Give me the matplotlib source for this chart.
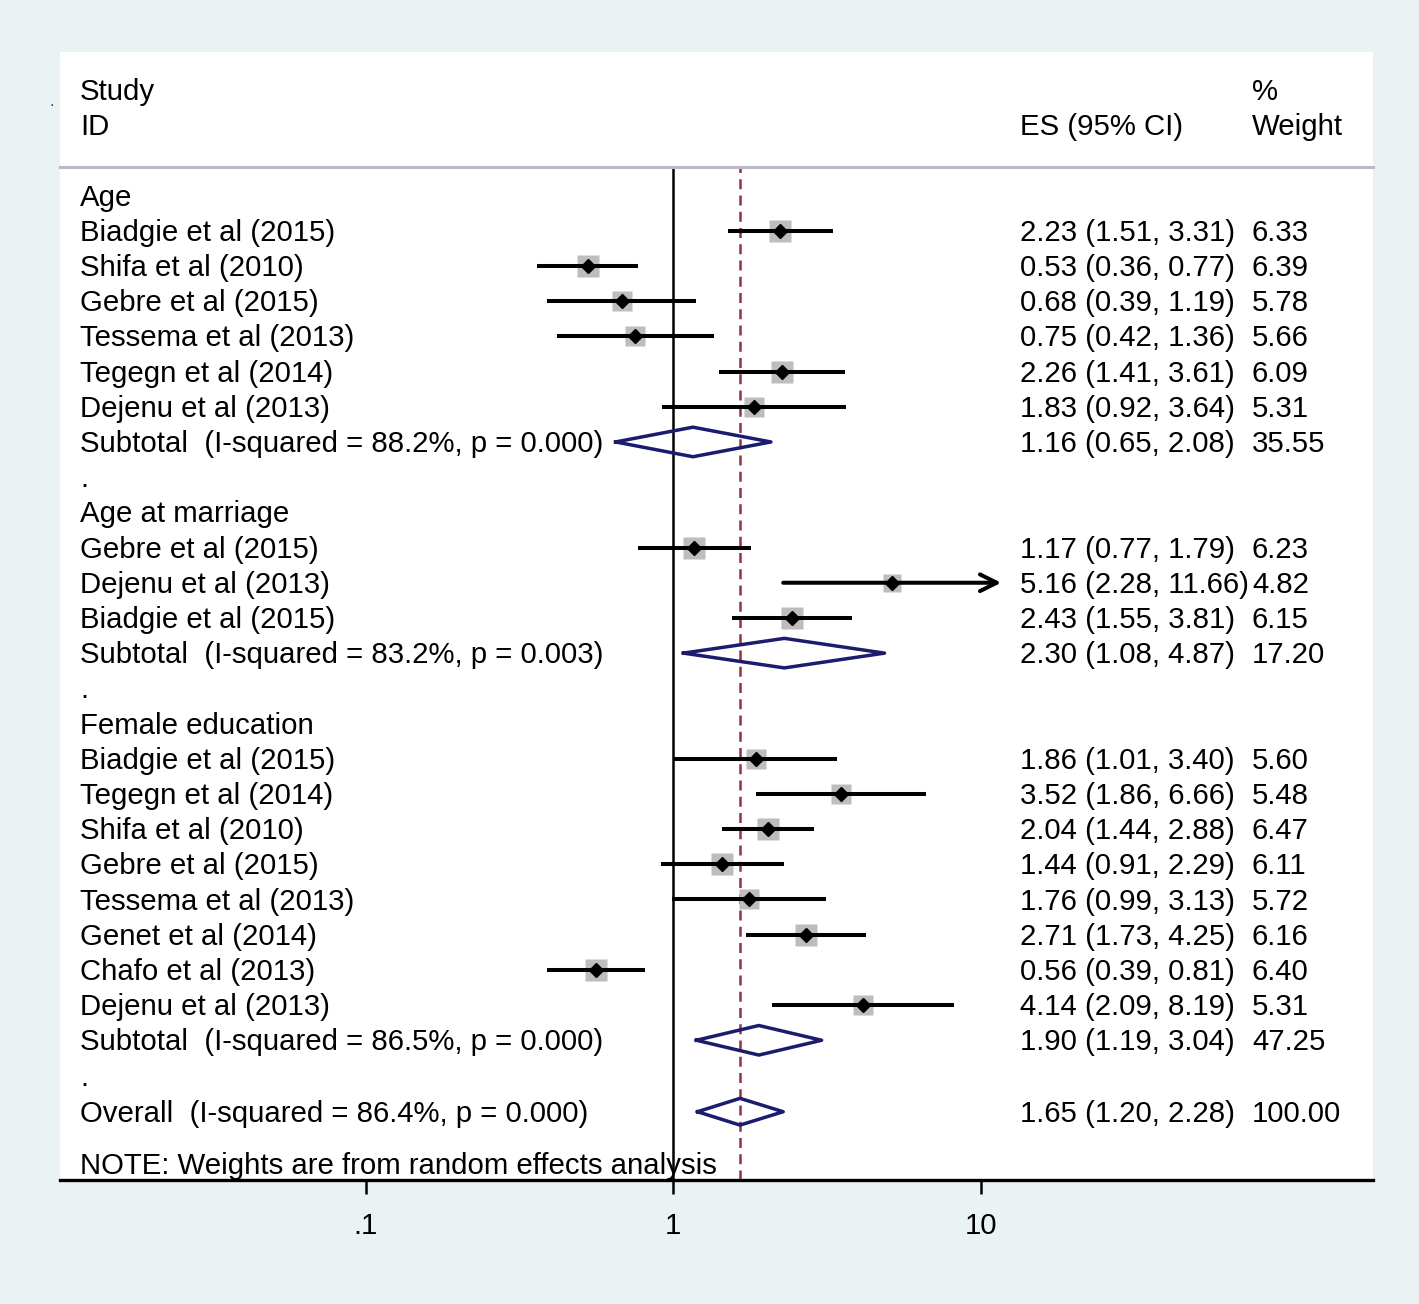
import matplotlib
matplotlib.use("Agg")
from matplotlib import pyplot as plt
import numpy as np

plt.rcParams["font.family"] = ["Liberation Sans", "DejaVu Sans"]

# groups of the forest plot
group_names = ["Age", "Age at marriage", "Female education"]

age_studies = ["Biadgie et al (2015)", "Shifa et al (2010)", "Gebre et al (2015)",
               "Tessema et al (2013)", "Tegegn et al (2014)", "Dejenu et al (2013)"]
age_es = [2.23, 0.53, 0.68, 0.75, 2.26, 1.83]
age_lo = [1.51, 0.36, 0.39, 0.42, 1.41, 0.92]
age_hi = [3.31, 0.77, 1.19, 1.36, 3.61, 3.64]
age_w = [6.33, 6.39, 5.78, 5.66, 6.09, 5.31]

mar_studies = ["Gebre et al (2015)", "Dejenu et al (2013)", "Biadgie et al (2015)"]
mar_es = [1.17, 5.16, 2.43]
mar_lo = [0.77, 2.28, 1.55]
mar_hi = [1.79, 11.66, 3.81]
mar_w = [6.23, 4.82, 6.15]

edu_studies = ["Biadgie et al (2015)", "Tegegn et al (2014)", "Shifa et al (2010)",
               "Gebre et al (2015)", "Tessema et al (2013)", "Genet et al (2014)",
               "Chafo et al (2013)", "Dejenu et al (2013)"]
edu_es = [1.86, 3.52, 2.04, 1.44, 1.76, 2.71, 0.56, 4.14]
edu_lo = [1.01, 1.86, 1.44, 0.91, 0.99, 1.73, 0.39, 2.09]
edu_hi = [3.40, 6.66, 2.88, 2.29, 3.13, 4.25, 0.81, 8.19]
edu_w = [5.60, 5.48, 6.47, 6.11, 5.72, 6.16, 6.40, 5.31]

# subtotals
sub_i2 = ["88.2%", "83.2%", "86.5%"]
sub_p = ["0.000", "0.003", "0.000"]
sub_es = [1.16, 2.30, 1.90]
sub_lo = [0.65, 1.08, 1.19]
sub_hi = [2.08, 4.87, 3.04]
sub_w = [35.55, 17.20, 47.25]

overall_i2 = "86.4%"
overall_p = "0.000"
overall_es, overall_lo, overall_hi, overall_w = 1.65, 1.20, 2.28, 100.00

groups = [
    (age_studies, age_es, age_lo, age_hi, age_w),
    (mar_studies, mar_es, mar_lo, mar_hi, mar_w),
    (edu_studies, edu_es, edu_lo, edu_hi, edu_w),
]

bg = "#eaf2f3"
navy = "#1c1c6e"
maroon = "#90353d"
fs = 21.2
dy = 0.06  # small downward nudge of the text

fig = plt.figure(figsize=(14.19, 13.04), dpi=100, facecolor=bg)
ax = fig.add_axes([60 / 1419, 1 - 1180 / 1304, 1313 / 1419, 1128 / 1304])
ax.set_facecolor("white")
ax.set_xscale("log")
ax.set_xlim(10 ** -1.994, 10 ** 2.276)
ax.set_ylim(30.97, -1.08)

tr = ax.get_yaxis_transform()
xl, xes, xw = 0.0152, 0.7312, 0.9078


def txt(x, y, s):
    ax.text(x, y + dy, s, transform=tr, fontsize=fs, va="center")


# header
txt(xl, 0, "Study")
txt(xl, 1, "ID")
txt(xes, 1, "ES (95% CI)")
txt(xw, 0, "%")
txt(xw, 1, "Weight")
ax.plot([0, 1], [2.19, 2.19], transform=tr, color="#b9b9c9", lw=2.2, clip_on=False)

vtop = (30.97 - 2.19) / (30.97 + 1.08)
ax.axvline(1, ymin=0, ymax=vtop, color="black", lw=1.8, zorder=1)
ax.axvline(overall_es, ymin=0, ymax=vtop, color=maroon, lw=1.8, ls=(0, (4, 2.5)), zorder=1)


def diamond(es, lo, hi, y, h=0.42):
    ax.plot([lo, es, hi, es, lo], [y, y - h, y, y + h, y], color=navy, lw=2.5, zorder=3)


def fmt(es, lo, hi):
    return f"{es:.2f} ({lo:.2f}, {hi:.2f})"


row = 3
for g, (names, es, lo, hi, w) in enumerate(groups):
    txt(xl, row, group_names[g])
    row += 1
    for i in range(len(names)):
        txt(xl, row, names[i])
        txt(xes, row, fmt(es[i], lo[i], hi[i]))
        txt(xw, row, f"{w[i]:.2f}")
        ax.plot(es[i], row, "s", color="#bdbdbd", ms=15.5 * np.sqrt(w[i] / 6.33),
                mec="none", zorder=2)
        if hi[i] > 10:
            ax.annotate("", xy=(hi[i], row), xytext=(lo[i], row),
                        arrowprops=dict(arrowstyle="->", lw=2.9, color="black",
                                        mutation_scale=30, shrinkA=0, shrinkB=0),
                        zorder=3)
        else:
            ax.plot([lo[i], hi[i]], [row, row], color="black", lw=2.9, zorder=3,
                    solid_capstyle="butt")
        ax.plot(es[i], row, "D", color="black", ms=7, zorder=4)
        row += 1
    txt(xl, row, f"Subtotal  (I-squared = {sub_i2[g]}, p = {sub_p[g]})")
    txt(xes, row, fmt(sub_es[g], sub_lo[g], sub_hi[g]))
    txt(xw, row, f"{sub_w[g]:.2f}")
    diamond(sub_es[g], sub_lo[g], sub_hi[g], row)
    row += 1
    txt(xl, row, ".")
    row += 1

row += 0.03
txt(xl, row, f"Overall  (I-squared = {overall_i2}, p = {overall_p})")
txt(xes, row, fmt(overall_es, overall_lo, overall_hi))
txt(xw, row, f"{overall_w:.2f}")
diamond(overall_es, overall_lo, overall_hi, row, h=0.38)

txt(xl, 30.5, "NOTE: Weights are from random effects analysis")

# axis
for s in ["top", "left", "right"]:
    ax.spines[s].set_visible(False)
ax.spines["bottom"].set_linewidth(2.4)
ax.set_yticks([])
ax.set_xticks([0.1, 1, 10])
ax.set_xticklabels([".1", "1", "10"], fontsize=fs)
ax.xaxis.set_minor_locator(matplotlib.ticker.NullLocator())
ax.tick_params(axis="x", length=10, width=1.8, pad=13)

# small stray mark left of the panel
fig.text(52 / 1419, 1 - 102 / 1304, ".", color="#2040a0", fontsize=12, ha="center", va="center")

fig.savefig("out.png", dpi=100, facecolor=bg)
